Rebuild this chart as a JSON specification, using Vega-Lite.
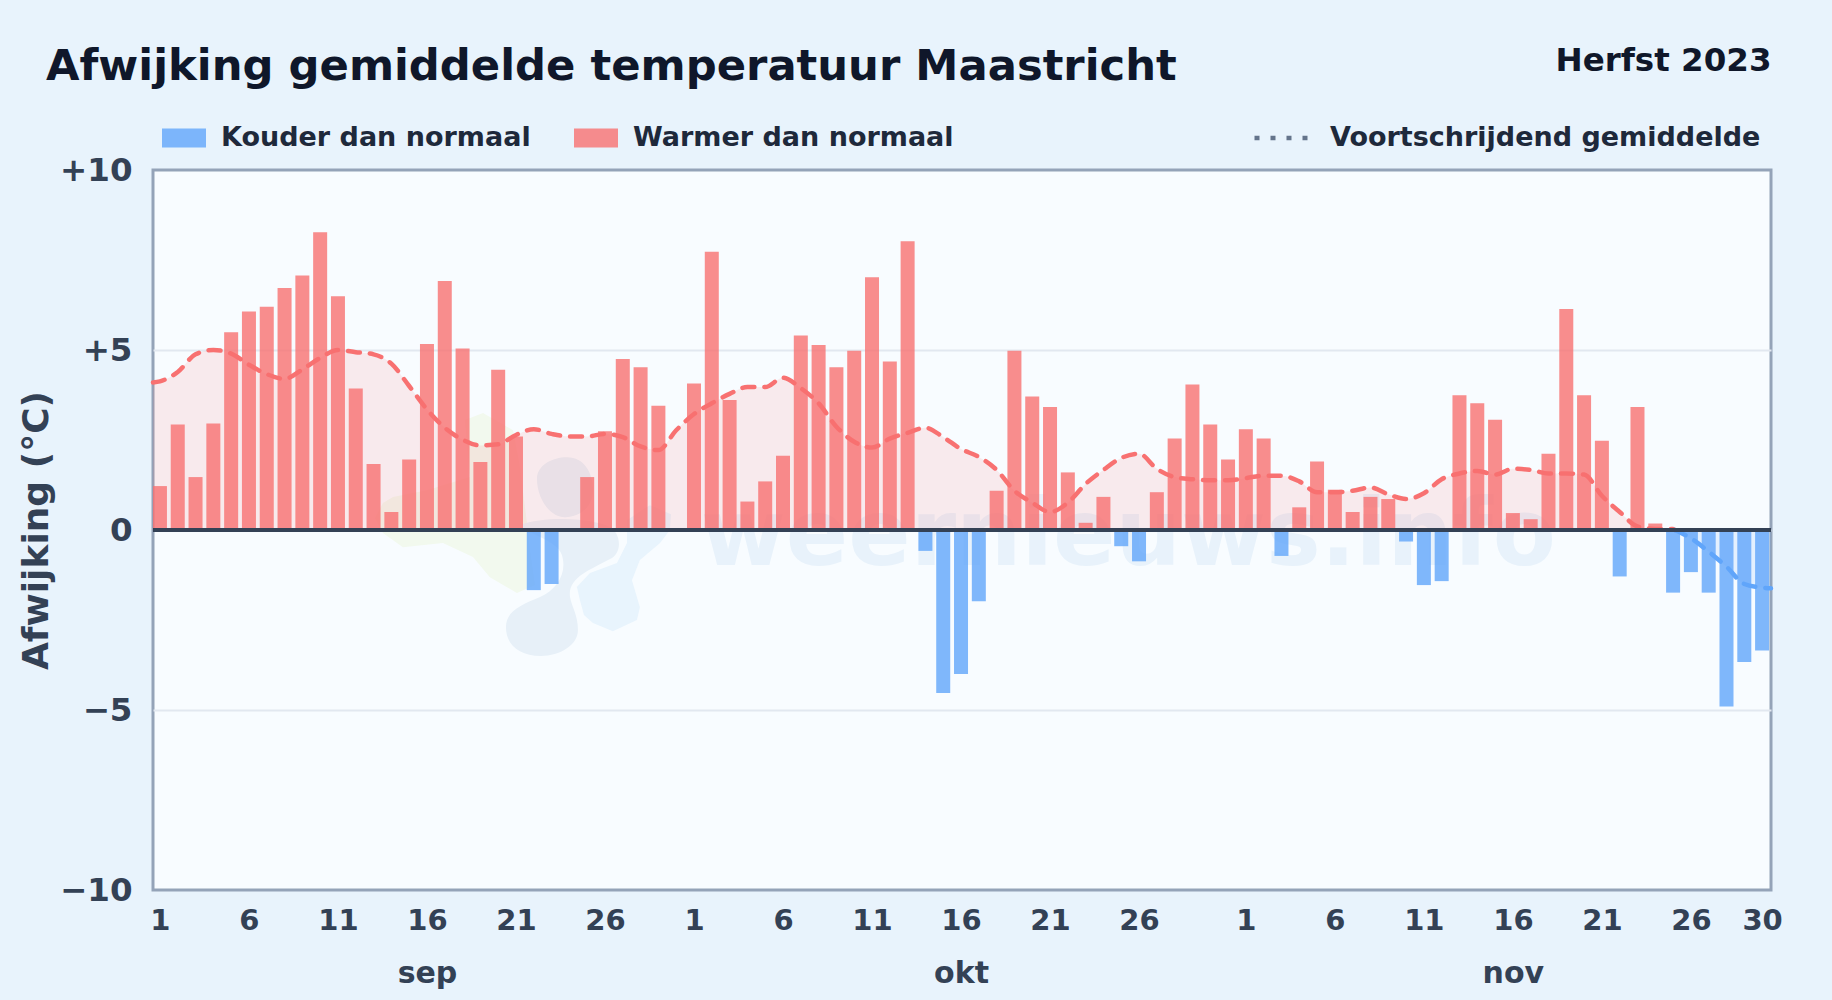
{
"$schema":"https://vega.github.io/schema/vega-lite/v6.json",
"width":1618,"height":720,
"autosize":{"type":"none"},
"padding":{"left":153,"top":170,"right":61,"bottom":110},
"background":"#e8f3fc",
"view":{"fill":"#f8fcff","stroke":"#94a3b8","strokeWidth":3},
"config":{"font":"DejaVu Sans"},
"title":{"text":"Afwijking gemiddelde temperatuur Maastricht","anchor":"start","frame":"group","dx":-107,"offset":-45,"fontSize":43.3,"fontWeight":"bold","font":"DejaVu Sans","color":"#0f172a"},
"datasets":{
"dagen":[
{"i":0,"a":1.22,"s":"Warmer dan normaal"},{"i":1,"a":2.93,"s":"Warmer dan normaal"},{"i":2,"a":1.47,"s":"Warmer dan normaal"},{"i":3,"a":2.96,"s":"Warmer dan normaal"},{"i":4,"a":5.49,"s":"Warmer dan normaal"},{"i":5,"a":6.07,"s":"Warmer dan normaal"},{"i":6,"a":6.2,"s":"Warmer dan normaal"},{"i":7,"a":6.72,"s":"Warmer dan normaal"},{"i":8,"a":7.07,"s":"Warmer dan normaal"},{"i":9,"a":8.27,"s":"Warmer dan normaal"},{"i":10,"a":6.49,"s":"Warmer dan normaal"},{"i":11,"a":3.93,"s":"Warmer dan normaal"},{"i":12,"a":1.83,"s":"Warmer dan normaal"},{"i":13,"a":0.5,"s":"Warmer dan normaal"},{"i":14,"a":1.96,"s":"Warmer dan normaal"},{"i":15,"a":5.17,"s":"Warmer dan normaal"},{"i":16,"a":6.92,"s":"Warmer dan normaal"},{"i":17,"a":5.04,"s":"Warmer dan normaal"},{"i":18,"a":1.89,"s":"Warmer dan normaal"},{"i":19,"a":4.45,"s":"Warmer dan normaal"},{"i":20,"a":2.6,"s":"Warmer dan normaal"},{"i":21,"a":-1.67,"s":"Kouder dan normaal"},{"i":22,"a":-1.5,"s":"Kouder dan normaal"},{"i":24,"a":1.47,"s":"Warmer dan normaal"},{"i":25,"a":2.74,"s":"Warmer dan normaal"},{"i":26,"a":4.75,"s":"Warmer dan normaal"},{"i":27,"a":4.52,"s":"Warmer dan normaal"},{"i":28,"a":3.45,"s":"Warmer dan normaal"},
{"i":30,"a":4.07,"s":"Warmer dan normaal"},{"i":31,"a":7.73,"s":"Warmer dan normaal"},{"i":32,"a":3.61,"s":"Warmer dan normaal"},{"i":33,"a":0.79,"s":"Warmer dan normaal"},{"i":34,"a":1.35,"s":"Warmer dan normaal"},{"i":35,"a":2.06,"s":"Warmer dan normaal"},{"i":36,"a":5.4,"s":"Warmer dan normaal"},{"i":37,"a":5.14,"s":"Warmer dan normaal"},{"i":38,"a":4.52,"s":"Warmer dan normaal"},{"i":39,"a":4.98,"s":"Warmer dan normaal"},{"i":40,"a":7.02,"s":"Warmer dan normaal"},{"i":41,"a":4.68,"s":"Warmer dan normaal"},{"i":42,"a":8.02,"s":"Warmer dan normaal"},{"i":43,"a":-0.58,"s":"Kouder dan normaal"},{"i":44,"a":-4.53,"s":"Kouder dan normaal"},{"i":45,"a":-4.0,"s":"Kouder dan normaal"},{"i":46,"a":-1.98,"s":"Kouder dan normaal"},{"i":47,"a":1.09,"s":"Warmer dan normaal"},{"i":48,"a":4.98,"s":"Warmer dan normaal"},{"i":49,"a":3.71,"s":"Warmer dan normaal"},{"i":50,"a":3.42,"s":"Warmer dan normaal"},{"i":51,"a":1.6,"s":"Warmer dan normaal"},{"i":52,"a":0.2,"s":"Warmer dan normaal"},{"i":53,"a":0.92,"s":"Warmer dan normaal"},{"i":54,"a":-0.45,"s":"Kouder dan normaal"},{"i":55,"a":-0.87,"s":"Kouder dan normaal"},{"i":56,"a":1.05,"s":"Warmer dan normaal"},{"i":57,"a":2.54,"s":"Warmer dan normaal"},{"i":58,"a":4.04,"s":"Warmer dan normaal"},{"i":59,"a":2.93,"s":"Warmer dan normaal"},{"i":60,"a":1.96,"s":"Warmer dan normaal"},
{"i":61,"a":2.8,"s":"Warmer dan normaal"},{"i":62,"a":2.54,"s":"Warmer dan normaal"},{"i":63,"a":-0.72,"s":"Kouder dan normaal"},{"i":64,"a":0.63,"s":"Warmer dan normaal"},{"i":65,"a":1.9,"s":"Warmer dan normaal"},{"i":66,"a":1.12,"s":"Warmer dan normaal"},{"i":67,"a":0.5,"s":"Warmer dan normaal"},{"i":68,"a":0.92,"s":"Warmer dan normaal"},{"i":69,"a":0.86,"s":"Warmer dan normaal"},{"i":70,"a":-0.32,"s":"Kouder dan normaal"},{"i":71,"a":-1.53,"s":"Kouder dan normaal"},{"i":72,"a":-1.42,"s":"Kouder dan normaal"},{"i":73,"a":3.74,"s":"Warmer dan normaal"},{"i":74,"a":3.52,"s":"Warmer dan normaal"},{"i":75,"a":3.06,"s":"Warmer dan normaal"},{"i":76,"a":0.47,"s":"Warmer dan normaal"},{"i":77,"a":0.3,"s":"Warmer dan normaal"},{"i":78,"a":2.12,"s":"Warmer dan normaal"},{"i":79,"a":6.14,"s":"Warmer dan normaal"},{"i":80,"a":3.74,"s":"Warmer dan normaal"},{"i":81,"a":2.48,"s":"Warmer dan normaal"},{"i":82,"a":-1.29,"s":"Kouder dan normaal"},{"i":83,"a":3.42,"s":"Warmer dan normaal"},{"i":84,"a":0.18,"s":"Warmer dan normaal"},{"i":85,"a":-1.74,"s":"Kouder dan normaal"},{"i":86,"a":-1.17,"s":"Kouder dan normaal"},{"i":87,"a":-1.74,"s":"Kouder dan normaal"},{"i":88,"a":-4.9,"s":"Kouder dan normaal"},{"i":89,"a":-3.67,"s":"Kouder dan normaal"},{"i":90,"a":-3.35,"s":"Kouder dan normaal"}
],
"gemiddelde":[
{"i":-0.39,"g":4.1,"r":"warm"},{"i":0,"g":4.13,"r":"warm"},{"i":1,"g":4.39,"r":"warm"},{"i":2,"g":4.88,"r":"warm"},{"i":3,"g":5.0,"r":"warm"},{"i":4,"g":4.9,"r":"warm"},{"i":5,"g":4.59,"r":"warm"},{"i":6,"g":4.33,"r":"warm"},{"i":7,"g":4.2,"r":"warm"},{"i":8,"g":4.46,"r":"warm"},{"i":9,"g":4.78,"r":"warm"},{"i":10,"g":5.0,"r":"warm"},{"i":11,"g":4.94,"r":"warm"},{"i":12,"g":4.88,"r":"warm"},{"i":13,"g":4.62,"r":"warm"},{"i":14,"g":4.0,"r":"warm"},{"i":15,"g":3.35,"r":"warm"},{"i":16,"g":2.84,"r":"warm"},{"i":17,"g":2.51,"r":"warm"},{"i":18,"g":2.35,"r":"warm"},{"i":19,"g":2.38,"r":"warm"},{"i":20,"g":2.64,"r":"warm"},{"i":21,"g":2.8,"r":"warm"},{"i":22,"g":2.67,"r":"warm"},{"i":23,"g":2.6,"r":"warm"},{"i":24,"g":2.6,"r":"warm"},{"i":25,"g":2.67,"r":"warm"},{"i":26,"g":2.58,"r":"warm"},{"i":27,"g":2.32,"r":"warm"},{"i":28,"g":2.22,"r":"warm"},{"i":29,"g":2.77,"r":"warm"},{"i":30,"g":3.22,"r":"warm"},{"i":31,"g":3.52,"r":"warm"},{"i":32,"g":3.78,"r":"warm"},{"i":33,"g":3.97,"r":"warm"},{"i":34,"g":3.97,"r":"warm"},{"i":35,"g":4.23,"r":"warm"},{"i":36,"g":3.94,"r":"warm"},{"i":37,"g":3.52,"r":"warm"},{"i":38,"g":2.87,"r":"warm"},{"i":39,"g":2.45,"r":"warm"},{"i":40,"g":2.29,"r":"warm"},{"i":41,"g":2.54,"r":"warm"},{"i":42,"g":2.7,"r":"warm"},{"i":43,"g":2.84,"r":"warm"},{"i":44,"g":2.58,"r":"warm"},{"i":45,"g":2.25,"r":"warm"},{"i":46,"g":2.03,"r":"warm"},{"i":47,"g":1.67,"r":"warm"},{"i":48,"g":1.09,"r":"warm"},{"i":49,"g":0.76,"r":"warm"},{"i":50,"g":0.5,"r":"warm"},{"i":51,"g":0.76,"r":"warm"},{"i":52,"g":1.28,"r":"warm"},{"i":53,"g":1.67,"r":"warm"},{"i":54,"g":2.0,"r":"warm"},{"i":55,"g":2.12,"r":"warm"},{"i":56,"g":1.7,"r":"warm"},{"i":57,"g":1.47,"r":"warm"},{"i":58,"g":1.41,"r":"warm"},{"i":59,"g":1.38,"r":"warm"},{"i":60,"g":1.38,"r":"warm"},{"i":61,"g":1.44,"r":"warm"},{"i":62,"g":1.51,"r":"warm"},{"i":63,"g":1.51,"r":"warm"},{"i":64,"g":1.35,"r":"warm"},{"i":65,"g":1.05,"r":"warm"},{"i":66,"g":1.05,"r":"warm"},{"i":67,"g":1.09,"r":"warm"},{"i":68,"g":1.18,"r":"warm"},{"i":69,"g":0.99,"r":"warm"},{"i":70,"g":0.86,"r":"warm"},{"i":71,"g":1.02,"r":"warm"},{"i":72,"g":1.41,"r":"warm"},{"i":73,"g":1.57,"r":"warm"},{"i":74,"g":1.64,"r":"warm"},{"i":75,"g":1.54,"r":"warm"},{"i":76,"g":1.7,"r":"warm"},{"i":77,"g":1.67,"r":"warm"},{"i":78,"g":1.57,"r":"warm"},{"i":79,"g":1.57,"r":"warm"},{"i":80,"g":1.54,"r":"warm"},{"i":81,"g":0.95,"r":"warm"},{"i":82,"g":0.5,"r":"warm"},{"i":83,"g":0.1,"r":"warm"},{"i":84,"g":0.03,"r":"warm"},{"i":85,"g":0.03,"r":"warm"},{"i":85.1,"g":0,"r":"warm"},
{"i":85.1,"g":0,"r":"koud"},{"i":86,"g":-0.23,"r":"koud"},{"i":87,"g":-0.6,"r":"koud"},{"i":88,"g":-1.02,"r":"koud"},{"i":89,"g":-1.5,"r":"koud"},{"i":90,"g":-1.6,"r":"koud"},{"i":90.5,"g":-1.62,"r":"koud"}
],
"midden":[{"i":19.1,"y":-0.28}],
"merk":[{"i":54.4,"y":-0.97,"t":"weernieuws.info"}]
},
"encoding":{"x":{"field":"i","type":"quantitative","scale":{"domain":[-0.39,90.5],"nice":false,"zero":false,"padding":0},"axis":null},
"y":{"field":"y","type":"quantitative","scale":{"domain":[-10,10],"nice":false},"axis":{"values":[-10,-5,0,5,10],"labelExpr":"datum.value>0?'+'+datum.value:datum.value<0?'\u2212'+(-datum.value):'0'","grid":true,"gridColor":"#e2e8f0","gridWidth":2,"gridOpacity":{"expr":"abs(datum.value)==10?0:1"},"ticks":false,"domain":false,"labelPadding":21,"labelFontSize":32.5,"labelFontWeight":"bold","labelFont":"DejaVu Sans","labelColor":"#334155","title":"Afwijking (\u00b0C)","titleFont":"DejaVu Sans","titleFontSize":36,"titleFontWeight":"bold","titleColor":"#334155","titleX":-98,"titleY":360}}},
"layer":[
{"data":{"name":"midden"},"mark":{"type":"point","filled":true,"opacity":1,"size":90000,"fill":"#f2f9ee","shape":"M-0.78,-0.247L-0.833,-0.147L-0.78,-0.047L-0.647,0.047L-0.38,0.02L-0.18,0.113L-0.067,0.247L0.113,0.353L0.233,0.3L0.2,0.067L0.18,-0.113L0.133,-0.487L0.087,-0.733L-0.113,-0.847L-0.233,-0.8L-0.2,-0.42L-0.487,-0.333L-0.713,-0.287Z"}},
{"data":{"name":"midden"},"mark":{"type":"point","filled":true,"opacity":1,"size":90000,"fill":"#e8f4fd","shape":"M0.533,0.4L0.56,0.5L0.62,0.553L0.753,0.607L0.913,0.533L0.933,0.447L0.88,0.267L0.933,0.133L1.067,0.02L1.133,-0.067L1.14,-0.173L1,-0.233L0.847,-0.133L0.847,0.02L0.78,0.153L0.6,0.22L0.513,0.313Z"}},
{"data":{"name":"midden"},"mark":{"type":"point","filled":true,"opacity":1,"size":90000,"fill":"#e7f0f8","shape":"M0.133,-0.1C0.3,-0.16,0.6,-0.15,0.733,-0.087C0.8,-0.05,0.82,0.07,0.747,0.12C0.6,0.2,0.45,0.25,0.467,0.38C0.48,0.45,0.52,0.5,0.52,0.6C0.52,0.7,0.4,0.773,0.273,0.773C0.13,0.773,0.04,0.7,0.04,0.58C0.04,0.47,0.15,0.43,0.267,0.38C0.38,0.33,0.45,0.22,0.413,0.1C0.38,0,0.2,-0.03,0.133,-0.1ZM0.247,-0.413C0.25,-0.5,0.35,-0.553,0.447,-0.553C0.56,-0.553,0.62,-0.45,0.62,-0.333C0.62,-0.22,0.53,-0.153,0.433,-0.153C0.33,-0.153,0.245,-0.28,0.247,-0.413Z"}},
{"data":{"name":"merk"},"mark":{"type":"text","font":"DejaVu Sans","fontWeight":"bold","fontSize":92,"fill":"#e8f2fb","align":"center","baseline":"alphabetic"},
 "encoding":{"text":{"field":"t"}}},
{"data":{"name":"gemiddelde"},"mark":{"type":"area","orient":"vertical","interpolate":"monotone","opacity":0.13},
 "encoding":{
  "x":{"field":"i","type":"quantitative","axis":{"orient":"top","labels":false,"ticks":false,"domain":false,"grid":false,"title":"Herfst 2023","titleFont":"DejaVu Sans","titleFontSize":32.5,"titleFontWeight":"bold","titleColor":"#0f172a","titleAlign":"right","titleAnchor":"end","titleX":1618,"titleY":-100,"titleBaseline":"alphabetic"}},
  "y":{"field":"g","type":"quantitative","stack":null},
  "fill":{"field":"r","type":"nominal","scale":{"domain":["warm","koud"],"range":["#f87171","#60a5fa"]},"legend":null}}},
{"data":{"name":"gemiddelde"},"mark":{"type":"line","interpolate":"monotone","strokeWidth":4.5,"strokeCap":"round","strokeDash":[12,10]},
 "encoding":{
  "x":{"field":"i","type":"quantitative","axis":{"orient":"bottom","values":[15,45,76],"labelExpr":"datum.value==15?'sep':datum.value==45?'okt':'nov'","labelPadding":68,"labelFontSize":30,"labelFontWeight":"bold","labelFont":"DejaVu Sans","labelColor":"#334155","ticks":false,"domain":false,"grid":false,"title":null,"labelOverlap":false}},
  "y":{"field":"g","type":"quantitative","stack":null},
  "stroke":{"field":"r","type":"nominal","scale":{"domain":["warm","koud"],"range":["#f87171","#60a5fa"]},"legend":null}}},
{"data":{"name":"gemiddelde"},"mark":{"type":"line","opacity":0,"stroke":"#64748b"},
 "encoding":{
  "y":{"field":"g","type":"quantitative","stack":null},
  "detail":{"field":"r"},
  "strokeDash":{"datum":"Voortschrijdend gemiddelde","scale":{"range":[[5,11]]},"legend":{"orient":"none","legendX":1099,"legendY":-62,"title":null,"symbolType":"stroke","symbolSize":3025,"symbolStrokeWidth":4.5,"symbolOpacity":1,"symbolStrokeColor":"#64748b","labelFont":"DejaVu Sans","labelFontSize":27,"labelFontWeight":"bold","labelColor":"#1e293b","labelOffset":18,"labelLimit":600}}}},
{"data":{"name":"dagen"},"mark":{"type":"bar","orient":"vertical","size":14,"opacity":0.8},
 "encoding":{
  "x":{"field":"i","type":"quantitative","axis":{"orient":"bottom","values":[0,5,10,15,20,25,30,35,40,45,50,55,61,66,71,76,81,86,90],"labelExpr":"datum.value<30?datum.value+1:datum.value<61?datum.value-29:datum.value-60","labelPadding":16,"labelFontSize":29,"labelFontWeight":"bold","labelFont":"DejaVu Sans","labelColor":"#334155","ticks":false,"domain":false,"grid":false,"title":null,"labelOverlap":false,"labelFlush":false}},
  "y":{"field":"a","type":"quantitative","stack":null},
  "color":{"field":"s","type":"nominal","scale":{"domain":["Kouder dan normaal","Warmer dan normaal"],"range":["#60a5fa","#f87171"]},"legend":{"orient":"none","legendX":8,"legendY":-55,"direction":"horizontal","title":null,"symbolType":"M-1,-0.43H1V0.43H-1Z","symbolSize":1936,"symbolOpacity":0.8,"labelFont":"DejaVu Sans","labelFontSize":27,"labelFontWeight":"bold","labelColor":"#1e293b","labelOffset":14,"labelLimit":600,"columnPadding":42}}}},
{"data":{"name":"midden"},"mark":{"type":"rule","color":"#334155","strokeWidth":4},"encoding":{"x":null,"y":{"datum":0,"type":"quantitative"}}}
],
"resolve":{"axis":{"x":"independent"}}
}
